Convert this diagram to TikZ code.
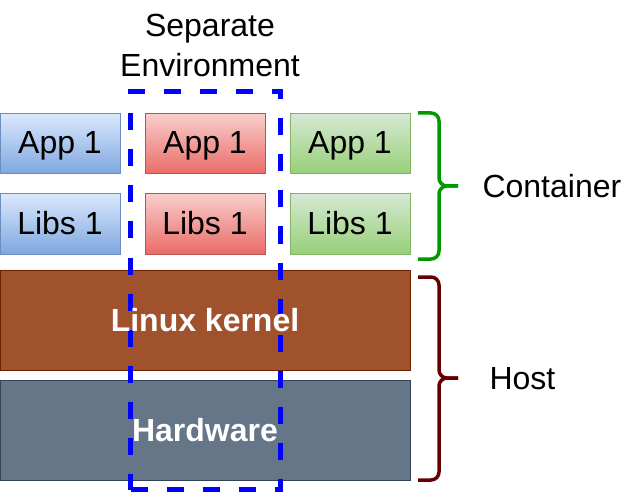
\documentclass[tikz,border=0pt]{standalone}
\usepackage{fontspec}
\setmainfont{Liberation Sans}
\usepackage{tikz}
\usetikzlibrary{positioning}
\definecolor{bluetop}{HTML}{DAE8FC}
\definecolor{bluebot}{HTML}{7EA6E0}
\definecolor{blueline}{HTML}{6C8EBF}
\definecolor{redtop}{HTML}{F8CECC}
\definecolor{redbot}{HTML}{EA6B66}
\definecolor{redline}{HTML}{B85450}
\definecolor{greentop}{HTML}{D5E8D4}
\definecolor{greenbot}{HTML}{97D077}
\definecolor{greenline}{HTML}{82B366}
\definecolor{kernel}{HTML}{A0522D}
\definecolor{kernelline}{HTML}{6D1F00}
\definecolor{hardware}{HTML}{647687}
\definecolor{hardwareline}{HTML}{314354}
\definecolor{envblue}{HTML}{0000FF}
\definecolor{containergreen}{HTML}{009900}
\definecolor{hostred}{HTML}{660000}

\begin{document}
\begin{tikzpicture}[
    x=1pt, y=-1pt,
    box/.style={rectangle, draw, line width=1pt, minimum width=120pt, minimum height=60pt, text centered, text height=23pt, text depth=3pt, font=\fontsize{32}{38}\selectfont},
    bluebox/.style={box, draw=blueline, top color=bluetop, bottom color=bluebot},
    redbox/.style={box, draw=redline, top color=redtop, bottom color=redbot},
    greenbox/.style={box, draw=greenline, top color=greentop, bottom color=greenbot},
    hostblock/.style={rectangle, draw, line width=1pt, minimum width=410pt, minimum height=100pt},
    hosttext/.style={text=white, font=\bfseries\fontsize{32}{38}\selectfont},
    envframe/.style={rectangle, draw=envblue, line width=5pt, dash pattern=on 17pt off 19pt, minimum width=150pt, minimum height=398pt},
    sidetext/.style={font=\fontsize{32}{40}\selectfont, align=center},
    brace/.style={line width=3.5pt, rounded corners=8pt}
]
\useasboundingbox (0,0) rectangle (631,494);

% Container blocks
\node[bluebox] (blueapp) at (60,144) {App 1};
\node[bluebox] (bluelibs) at (60,224) {Libs 1};
\node[redbox] (redapp) at (205,144) {App 1};
\node[redbox] (redlibs) at (205,224) {Libs 1};
\node[greenbox] (greenapp) at (350,144) {App 1};
\node[greenbox] (greenlibs) at (350,224) {Libs 1};

% Host layers
\node[hostblock, fill=kernel, draw=kernelline] (kernel) at (205,320) {};
\node[hostblock, fill=hardware, draw=hardwareline] (hardware) at (205,430) {};

% Separate environment frame
\node[envframe] (sepenv) at (205.5,290.5) {};
\node[sidetext] (seplabel) at (210,45) {Separate\\Environment};

% Layer texts on top of the frame
\node[hosttext] (kerneltext) at (kernel.center) {Linux kernel};
\node[hosttext] (hardwaretext) at (hardware.center) {Hardware};

% Braces
\draw[brace, draw=containergreen] (418,113) -- (439,113) -- (439,186) -- (458,186);
\draw[brace, draw=containergreen] (418,259) -- (439,259) -- (439,186) -- (458,186);
\draw[brace, draw=hostred] (418,277) -- (439,277) -- (439,378) -- (458,378);
\draw[brace, draw=hostred] (418,480) -- (439,480) -- (439,378) -- (458,378);

% Brace labels
\node[sidetext, anchor=west] (container) at (479,186) {Container};
\node[sidetext, anchor=west] (host) at (486,379) {Host};

\end{tikzpicture}
\end{document}
